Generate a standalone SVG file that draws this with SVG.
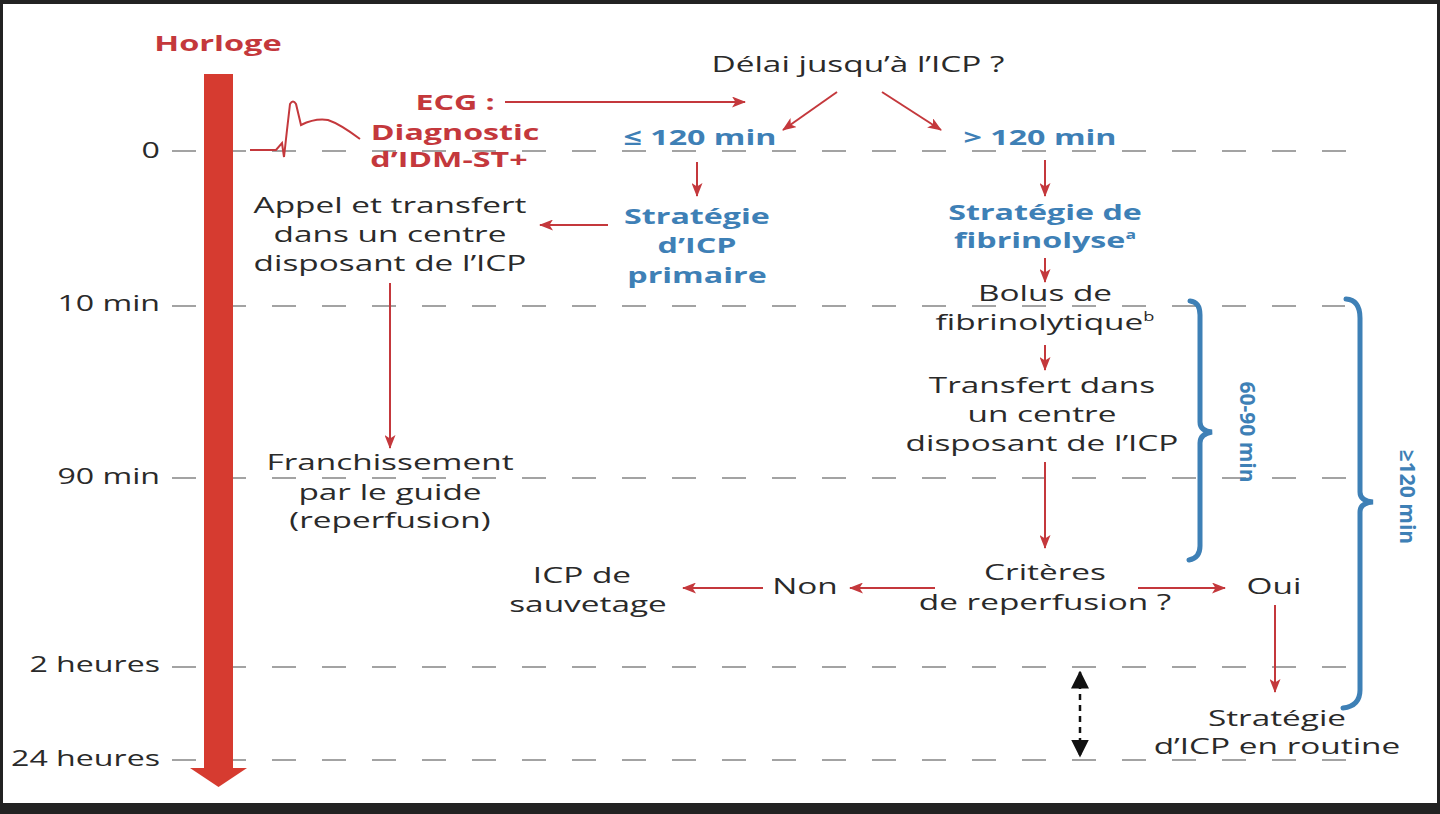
<svg xmlns="http://www.w3.org/2000/svg" width="1440" height="814" viewBox="0 0 1440 814">
<defs>
<marker id="ah" viewBox="0 0 14 11" refX="13" refY="5.5" markerWidth="14" markerHeight="11" markerUnits="userSpaceOnUse" orient="auto">
<path d="M0,0 L14,5.5 L0,11 L3.5,5.5 z" fill="#c4383c"/>
</marker>
<marker id="bh" viewBox="0 0 12 12" refX="11" refY="6" markerWidth="18" markerHeight="18" markerUnits="userSpaceOnUse" orient="auto-start-reverse">
<path d="M0,0 L12,6 L0,12 z" fill="#111"/>
</marker>
<style>
.t{font-family:"Open Sans","DejaVu Sans",sans-serif;font-size:22px;fill:#2a2a2a;text-anchor:middle;transform-box:fill-box;transform-origin:center;transform:scaleX(1.516)}
.r{fill:#c4383c;font-weight:bold;font-size:21px;transform:scaleX(1.533)}
.b{fill:#3e80b6;font-weight:bold;transform:scaleX(1.464)}
.v{font-family:"Open Sans","DejaVu Sans",sans-serif;font-size:21px;fill:#3e80b6;font-weight:bold;text-anchor:middle}
.lbl{font-family:"Open Sans","DejaVu Sans",sans-serif;font-size:21px;fill:#2a2a2a;text-anchor:end;transform-box:fill-box;transform-origin:right;transform:scaleX(1.53)}
.dash{stroke:#a3a3a3;stroke-width:2;stroke-dasharray:24 26;fill:none}
.ar{stroke:#c4383c;stroke-width:2;fill:none;marker-end:url(#ah)}
.br{stroke:#3e80b6;stroke-width:5;fill:none;stroke-linecap:round}
</style>
</defs>
<rect width="1440" height="814" fill="#222"/>
<rect x="3" y="4" width="1434" height="799" fill="#fff"/>

<g id="gridlines">
<line class="dash" x1="172" y1="151" x2="1368" y2="151"/>
<line class="dash" x1="172" y1="306" x2="1345" y2="306"/>
<line class="dash" x1="172" y1="478" x2="1368" y2="478"/>
<line class="dash" x1="172" y1="667" x2="1368" y2="667"/>
<line class="dash" x1="172" y1="760" x2="1368" y2="760"/>
</g>

<g id="time-labels">
<text class="lbl" x="160" y="158">0</text>
<text class="lbl" x="160" y="311">10 min</text>
<text class="lbl" x="160" y="484">90 min</text>
<text class="lbl" x="160" y="672">2 heures</text>
<text class="lbl" x="160" y="766">24 heures</text>
</g>

<g id="clock">
<text class="t r" x="218" y="51" style="font-size:21px;transform:scaleX(1.55)">Horloge</text>
<rect x="204" y="74" width="29" height="696" fill="#d63b30"/>
<path d="M190,768 L247,768 L218.5,787 z" fill="#d63b30"/>
</g>

<g id="ecg">
<path d="M250,150 L276,150 L282,143 L284,157 L287,130 L290,104 Q293,99 296,104 L301,125 Q315,118 328,120 Q340,124 360,139" fill="none" stroke="#c4383c" stroke-width="2"/>
<text class="t r" x="454" y="110"><tspan x="455" y="110">ECG :</tspan><tspan x="455" y="140">Diagnostic</tspan><tspan x="451" y="167">d’IDM-ST+</tspan></text>
</g>

<g id="delai"><text class="t" x="858" y="72">Délai jusqu’à l’ICP ?</text></g>
<g id="le120"><text class="t b" x="700" y="145">≤ 120 min</text></g>
<g id="gt120"><text class="t b" x="1040" y="145">&gt; 120 min</text></g>
<g id="strat-icp">
<text class="t b" x="697" y="224"><tspan x="697" y="224">Stratégie</tspan><tspan x="697" y="253">d’ICP</tspan><tspan x="697" y="283">primaire</tspan></text>
</g>
<g id="appel">
<text class="t" x="390" y="213"><tspan x="390" y="213">Appel et transfert</tspan><tspan x="390" y="242">dans un centre</tspan><tspan x="390" y="271">disposant de l’ICP</tspan></text>
</g>
<g id="franchissement">
<text class="t" x="390" y="470"><tspan x="390" y="470">Franchissement</tspan><tspan x="390" y="500">par le guide</tspan><tspan x="390" y="528">(reperfusion)</tspan></text>
</g>
<g id="strat-fib">
<text class="t b" x="1045" y="220"><tspan x="1045" y="220">Stratégie de</tspan><tspan x="1045" y="248">fibrinolyse</tspan><tspan font-size="12" dy="-9">a</tspan></text>
</g>
<g id="bolus">
<text class="t" x="1045" y="301"><tspan x="1045" y="301">Bolus de</tspan><tspan x="1045" y="330">fibrinolytique</tspan><tspan font-size="12" dy="-9">b</tspan></text>
</g>
<g id="transfert">
<text class="t" x="1042" y="393"><tspan x="1042" y="393">Transfert dans</tspan><tspan x="1042" y="422">un centre</tspan><tspan x="1042" y="451">disposant de l’ICP</tspan></text>
</g>
<g id="criteres">
<text class="t" x="1045" y="580"><tspan x="1045" y="580">Critères</tspan><tspan x="1045" y="610">de reperfusion ?</tspan></text>
</g>
<g id="non"><text class="t" x="805" y="594">Non</text></g>
<g id="sauvetage">
<text class="t" x="588" y="583"><tspan x="584" y="583">ICP de</tspan><tspan x="588" y="612">sauvetage</tspan></text>
</g>
<g id="oui"><text class="t" x="1274" y="594">Oui</text></g>
<g id="routine">
<text class="t" x="1277" y="726"><tspan x="1277" y="726">Stratégie</tspan><tspan x="1277" y="754">d’ICP en routine</tspan></text>
</g>

<g id="brackets">
<path class="br" d="M1190,301 Q1200,302 1200,315 L1200,422 Q1200,431 1212,432 Q1200,434 1200,443 L1200,546 Q1200,558 1189,560"/>
<text class="v" transform="translate(1247,432) rotate(90)" y="7">60-90 min</text>
<path class="br" d="M1346,299 Q1360,300 1360,318 L1360,492 Q1360,501 1373,502 Q1360,503 1360,512 L1360,690 Q1360,706 1343,708"/>
<text class="v" transform="translate(1407,497) rotate(90)" y="7">≥120 min</text>
</g>

<g id="connectors">
<line class="ar" x1="505" y1="102" x2="745" y2="102"/>
<line class="ar" x1="837" y1="92" x2="783" y2="130"/>
<line class="ar" x1="882" y1="92" x2="941" y2="130"/>
<line class="ar" x1="697" y1="162" x2="697" y2="196"/>
<line class="ar" x1="608" y1="225" x2="540" y2="225"/>
<line class="ar" x1="390" y1="283" x2="390" y2="448"/>
<line class="ar" x1="1045" y1="160" x2="1045" y2="196"/>
<line class="ar" x1="1045" y1="258" x2="1045" y2="282"/>
<line class="ar" x1="1045" y1="345" x2="1045" y2="370"/>
<line class="ar" x1="1045" y1="462" x2="1045" y2="548"/>
<line class="ar" x1="935" y1="588" x2="850" y2="588"/>
<line class="ar" x1="763" y1="588" x2="683" y2="588"/>
<line class="ar" x1="1138" y1="588" x2="1225" y2="588"/>
<line class="ar" x1="1275" y1="605" x2="1275" y2="692"/>
<path d="M1080,672 L1080,756" stroke="#111" stroke-width="2.5" stroke-dasharray="6 5" fill="none" marker-start="url(#bh)" marker-end="url(#bh)"/>
</g>
</svg>
